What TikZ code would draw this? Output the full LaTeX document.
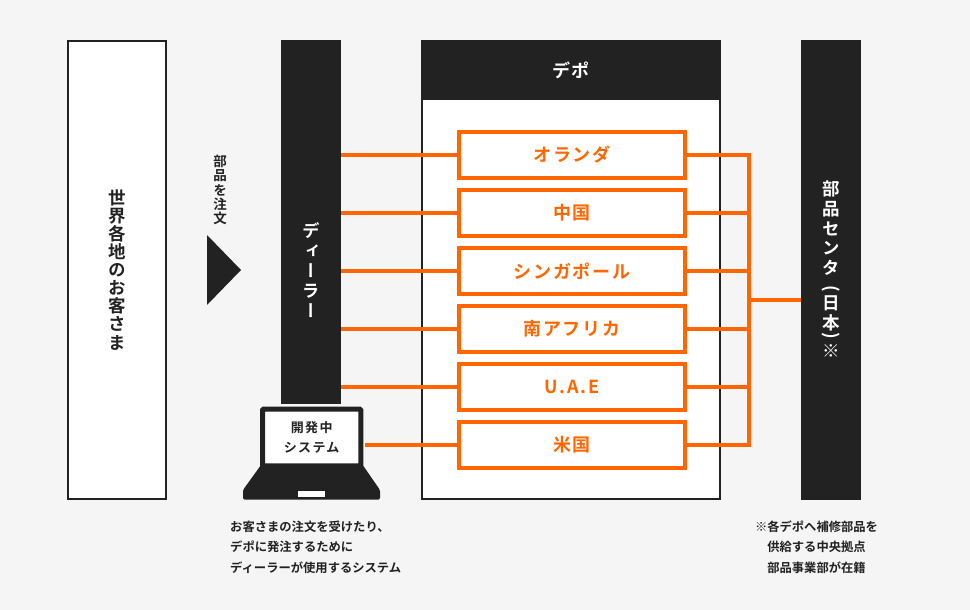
\documentclass[tikz,border=0pt]{standalone}
\usepackage{fontspec}
\setmainfont{Noto Sans CJK JP}[BoldFont={Noto Sans CJK JP Bold}]
\newfontfamily\jph{Noto Sans CJK JP Bold}[LetterSpace=10]
\newfontfamily\jpb{Noto Sans CJK JP Bold}
\newfontfamily\jpv{Noto Sans CJK JP Bold}[RawFeature={+vert}]
\definecolor{ink}{HTML}{222222}
\definecolor{org}{HTML}{FF6600}
\definecolor{bg}{HTML}{F5F5F5}
\newdimen\vstep
% one stacked character: #1 = height of its cell, #2 = the character
\newcommand{\vbx}[2]{\hbox to 30pt{\vrule height \dimexpr#1/2+.38em\relax depth \dimexpr#1/2-.38em\relax width 0pt\hss\smash{#2}\hss}}
% one half-width character turned a quarter clockwise
\newcommand{\vrt}[2]{\vbox to #1{\vss\hbox to 30pt{\hss\rotatebox{-90}{\jpb #2}\hss}\vss}}
\def\vsi#1{\ifx#1\relax\else\vbx{\vstep}{#1}\expandafter\vsi\fi}
\newcommand{\vstack}[3]{\vbox{\offinterlineskip\vstep=#2pt\fontsize{#1}{#2}\jpv\vsi#3\relax}}
\tikzset{
  x=1pt,y=-1pt,
  blockbox/.style={draw=ink,line width=2pt,fill=white,inner sep=0pt,outer sep=0pt,anchor=north west},
  darkbox/.style={fill=ink,inner sep=0pt,outer sep=0pt,anchor=north west,text=white},
  depotbox/.style={draw=org,line width=4pt,fill=white,minimum width=226pt,minimum height=46pt,inner sep=0pt,outer sep=0pt,text=org,font=\fontsize{18}{20}\jph},
  wire/.style={draw=org,line width=4pt},
  note/.style={font=\fontsize{12.3}{20.5}\jpb,text=ink,inner sep=0pt},
}
\begin{document}
\begin{tikzpicture}
\useasboundingbox (0,0) rectangle (970,610);
\fill[bg] (0,0) rectangle (970,610);
% customers
\node[blockbox,minimum width=98pt,minimum height=458pt] (cust) at (68,41) {};
\node[text=ink,inner sep=0pt] (custt) at (117,270) {\vstack{17.5}{18.1}{世界各地のお客さま}};
% order
\node[text=ink,inner sep=0pt] (order) at (220,190) {\vstack{13.5}{14.4}{部品を注文}};
\fill[ink] (207,235) -- (241,270) -- (207,305) -- cycle;
% dealer
\node[darkbox,minimum width=60pt,minimum height=364pt] (dealer) at (281,40) {};
\node[text=white,inner sep=0pt] (dealert) at (311,271) {\vstack{17.5}{20}{ディーラー}};
% depot
\node[blockbox,minimum width=298pt,minimum height=458pt] (depot) at (422,41) {};
\node[darkbox,minimum width=300pt,minimum height=60pt,font=\fontsize{18}{20}\jph] (depoth) at (421,40) {デポ};
% parts centre
\node[darkbox,minimum width=60pt,minimum height=460pt] (parts) at (801,40) {};
\node[text=white,inner sep=0pt] (partst) at (831,270) {\vbox{\offinterlineskip\fontsize{17.5}{20}\jpv
  \vbx{19.7pt}{部}\vbx{19.7pt}{品}\vbx{19.7pt}{セ}\vbx{19.7pt}{ン}\vbx{19.7pt}{タ}%
  \kern8pt\vrt{6.5pt}{(}\kern.65pt\vbx{19.7pt}{日}\vbx{19.7pt}{本}\vrt{6.5pt}{)}\kern2.15pt\vbx{19.7pt}{※}}};
% depots
\node[depotbox] (d1) at (572,155) {オランダ};
\node[depotbox] (d2) at (572,213) {中国};
\node[depotbox] (d3) at (572,271) {シンガポール};
\node[depotbox] (d4) at (572,329) {南アフリカ};
\node[depotbox] (d5) at (572,387) {U.A.E};
\node[depotbox] (d6) at (572,445) {米国};
% laptop
\fill[ink,rounded corners=1.5pt] (243,499.5) -- (243,490) -- (261,465) -- (362.7,465) -- (380,490) -- (380,499.5) -- cycle;
\node[draw=ink,line width=5pt,fill=white,rounded corners=1pt,minimum width=98.3pt,minimum height=56.6pt,inner sep=0pt,outer sep=0pt,text=ink,align=center,font=\fontsize{13}{20}\jph] (screen) at (311.7,437.5) {開発中\\システム};
\fill[white] (298,491) rectangle (325,497);
% wires
\coordinate (bus) at (749,299.5);
\foreach \n in {1,...,5}{\draw[wire] (dealer.east |- d\n.west) -- (d\n.west);}
\coordinate (lapout) at (365,445);
\draw[wire] (lapout) -- (d6.west);
\foreach \n in {1,...,6}{\draw[wire] (d\n.east) -- (bus |- d\n.east);}
\draw[wire,line cap=rect] (bus |- d1.east) -- (bus |- d6.east);
\draw[wire] (bus) -- (parts.west |- bus);
% notes
\node[note,align=left,anchor=west] (n1) at (230,547) {お客さまの注文を受けたり、\\デポに発注するために\\ディーラーが使用するシステム};
\node[note,align=center] (n2) at (816.5,547) {※各デポへ補修部品を\\供給する中央拠点\\部品事業部が在籍};
\end{tikzpicture}
\end{document}
